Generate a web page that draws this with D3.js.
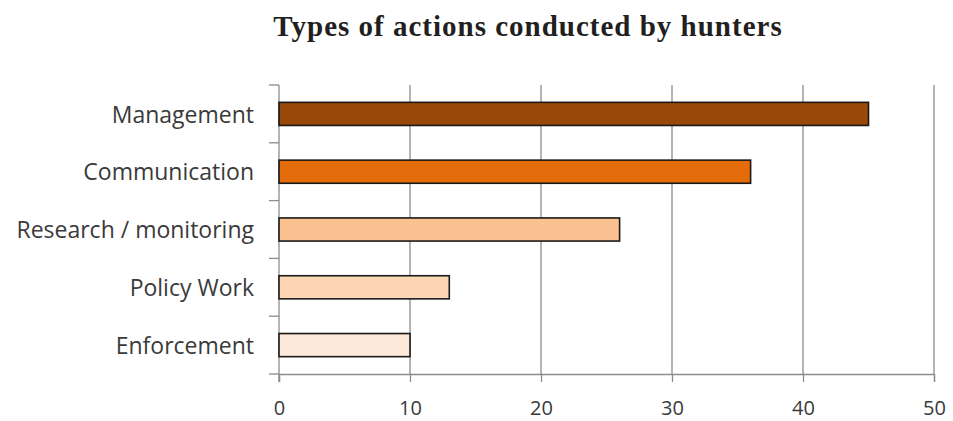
<!DOCTYPE html>
<html>
<head>
<meta charset="utf-8">
<script src="https://cdn.jsdelivr.net/npm/d3@7"></script>
<style>
  body { margin: 0; background: #fff; }
  svg { display: block; }
</style>
</head>
<body>
<svg id="chart" width="953" height="421"></svg>
<script>
const title = "Types of actions conducted by hunters";
const categories = ["Management", "Communication", "Research / monitoring", "Policy Work", "Enforcement"];
const values = [45, 36, 26, 13, 10];
const colors = ["#984807", "#E46C0A", "#FAC090", "#FCD5B5", "#FDE9D9"];
const xTicks = [0, 10, 20, 30, 40, 50];

const svg = d3.select("#chart");
const margin = { left: 279, right: 19, top: 85, bottom: 47 };
const W = 953, H = 421;

const x = d3.scaleLinear().domain([0, 50]).range([margin.left, W - margin.right]);
const y = d3.scaleBand().domain(categories).range([margin.top, H - margin.bottom]).paddingInner(0.6).paddingOuter(0.3);

// title
svg.append("text")
  .attr("x", 528).attr("y", 36)
  .attr("text-anchor", "middle")
  .style("font-family", "'Liberation Serif', 'DejaVu Serif', serif")
  .style("font-weight", "bold")
  .style("font-size", "29px")
  .style("letter-spacing", "1px")
  .style("fill", "#231f20")
  .text(title);

// gridlines
svg.append("g").selectAll("line").data(xTicks.slice(1)).join("line")
  .attr("x1", d => x(d)).attr("x2", d => x(d))
  .attr("y1", margin.top).attr("y2", H - margin.bottom)
  .attr("stroke", "#8c8c8c").attr("stroke-width", 1.3);

// x axis
const xAxis = d3.axisBottom(x).tickValues(xTicks).tickSize(8);
const gx = svg.append("g").attr("transform", `translate(0,${H - margin.bottom})`).call(xAxis);
gx.select(".domain").attr("stroke", "#8c8c8c").attr("stroke-width", 1.3);
gx.selectAll(".tick line").attr("stroke", "#8c8c8c").attr("stroke-width", 1.3);
gx.selectAll("text")
  .attr("y", 41).attr("dy", 0)
  .style("font-family", "'Open Sans', sans-serif")
  .style("font-size", "20px")
  .style("fill", "#3a3a3a");

// y axis: ticks at band boundaries
const yBoundaries = d3.range(categories.length + 1).map(i => margin.top + i * (H - margin.bottom - margin.top) / categories.length);
const gy = svg.append("g");
gy.append("line")
  .attr("x1", margin.left).attr("x2", margin.left)
  .attr("y1", margin.top).attr("y2", H - margin.bottom + 8)
  .attr("stroke", "#8c8c8c").attr("stroke-width", 1.3);
gy.selectAll("line.tk").data(yBoundaries).join("line").attr("class", "tk")
  .attr("x1", margin.left - 10).attr("x2", margin.left)
  .attr("y1", d => d).attr("y2", d => d)
  .attr("stroke", "#8c8c8c").attr("stroke-width", 1.3);

// category labels
svg.append("g").selectAll("text").data(categories).join("text")
  .attr("x", 254)
  .attr("y", d => y(d) + y.bandwidth() / 2)
  .attr("dy", "0.38em")
  .attr("text-anchor", "end")
  .style("font-family", "'Open Sans', sans-serif")
  .style("font-size", "23px")
  .style("fill", "#3a3a3a")
  .text(d => d);

// bars
svg.append("g").selectAll("rect").data(categories).join("rect")
  .attr("x", x(0))
  .attr("y", d => y(d))
  .attr("width", (d, i) => x(values[i]) - x(0))
  .attr("height", y.bandwidth())
  .attr("fill", (d, i) => colors[i])
  .attr("stroke", "#1a1a1a")
  .attr("stroke-width", 1.6);
</script>
</body>
</html>
